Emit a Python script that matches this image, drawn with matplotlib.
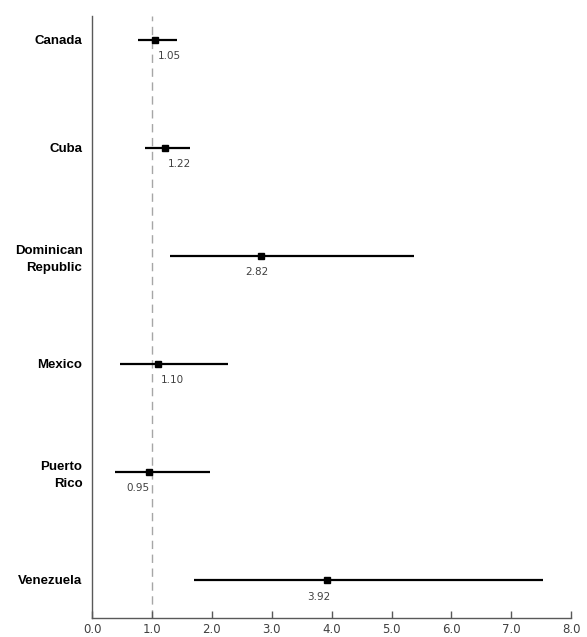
import matplotlib
matplotlib.use('Agg')
from matplotlib import pyplot as plt

#### D A T A
countries = ['Canada', 'Cuba', 'Dominican\nRepublic', 'Mexico', 'Puerto\nRico', 'Venezuela']
odds_ratio = [1.05, 1.22, 2.82, 1.10, 0.95, 3.92]
ci_low = [0.77, 0.89, 1.30, 0.46, 0.38, 1.70]
ci_high = [1.41, 1.64, 5.38, 2.27, 1.96, 7.53]
x_ticks = [0, 1, 2, 3, 4, 5, 6, 7, 8]

# horizontal nudge of each value label (points), the labels were hand placed
label_dx = [10, 10, -3, 10, -8, -6]

fig = plt.figure(figsize=(5.87, 6.37), dpi=100)
ax = fig.add_axes([0.157, 0.030, 0.816, 0.945])

y_pos = list(range(len(countries), 0, -1))

for y, orr, lo, hi, dx in zip(y_pos, odds_ratio, ci_low, ci_high, label_dx):
    ax.plot([lo, hi], [y, y], color='black', lw=1.6, solid_capstyle='butt', zorder=3)
    ax.plot(orr, y, marker='s', color='black', ms=5, zorder=4)
    ax.annotate(f'{orr:.2f}', (orr, y), xytext=(dx, -12), textcoords='offset points',
                ha='center', va='center', fontsize=7.5, color='#404040')

ax.axvline(1, color='#a6a6a6', lw=1, ls=(0, (6, 4)), zorder=1)

ax.set_xlim(0, 8)
ax.set_ylim(0.648, 6.22)
ax.set_xticks(x_ticks)
ax.set_xticklabels([f'{t:.1f}' for t in x_ticks], fontsize=8.5, color='#404040')
ax.set_yticks(y_pos)
ax.set_yticklabels(countries, fontsize=9.5, fontweight='bold', family='Liberation Sans',
                   linespacing=1.5)

ax.tick_params(axis='x', direction='in', length=5, width=1, color='#595959', pad=4)
ax.tick_params(axis='y', length=0, pad=7)

for side in ['top', 'right']:
    ax.spines[side].set_visible(False)
for side in ['left', 'bottom']:
    ax.spines[side].set_color('#595959')
    ax.spines[side].set_linewidth(1)

plt.savefig('out.png', dpi=100)
